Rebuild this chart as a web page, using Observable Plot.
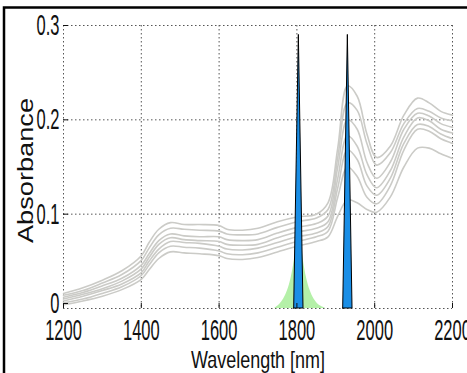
<!DOCTYPE html>
<html><head><meta charset="utf-8">
<script src="https://cdn.jsdelivr.net/npm/d3@7"></script>
<script src="https://cdn.jsdelivr.net/npm/@observablehq/plot@0.6"></script>
<style>html,body{margin:0;padding:0;background:#fff;} svg{display:block;}</style>
</head><body><div id="chart"></div>
<script>
const wavelengths = [1200,1250,1300,1350,1400,1420,1445,1475,1510,1550,1600,1620,1660,1700,1750,1800,1850,1880,1905,1930,1955,1980,2005,2040,2075,2110,2140,2170,2200];
const spectrum1 = [0.016,0.022,0.030,0.040,0.056,0.070,0.084,0.091,0.089,0.089,0.088,0.084,0.083,0.085,0.092,0.097,0.100,0.112,0.170,0.236,0.225,0.185,0.160,0.172,0.205,0.223,0.218,0.209,0.205];
const spectrum2 = [0.014,0.019,0.027,0.036,0.051,0.064,0.078,0.085,0.084,0.083,0.082,0.079,0.078,0.079,0.086,0.092,0.096,0.105,0.160,0.218,0.210,0.175,0.152,0.165,0.196,0.212,0.209,0.202,0.199];
const spectrum3 = [0.012,0.017,0.024,0.032,0.046,0.058,0.072,0.079,0.077,0.076,0.076,0.073,0.072,0.073,0.080,0.086,0.090,0.098,0.150,0.200,0.190,0.155,0.138,0.155,0.190,0.207,0.204,0.196,0.192];
const spectrum4 = [0.010,0.015,0.021,0.029,0.042,0.054,0.068,0.075,0.073,0.072,0.071,0.068,0.067,0.068,0.075,0.081,0.085,0.092,0.138,0.183,0.172,0.142,0.128,0.146,0.182,0.202,0.199,0.190,0.186];
const spectrum5 = [0.008,0.013,0.019,0.026,0.038,0.050,0.063,0.071,0.070,0.069,0.066,0.063,0.062,0.064,0.070,0.076,0.080,0.087,0.128,0.168,0.158,0.130,0.120,0.138,0.175,0.195,0.193,0.185,0.180];
const spectrum6 = [0.006,0.010,0.016,0.023,0.035,0.046,0.059,0.066,0.065,0.064,0.061,0.058,0.057,0.059,0.065,0.071,0.076,0.082,0.118,0.150,0.140,0.118,0.111,0.130,0.168,0.190,0.188,0.180,0.175];
const spectrum7 = [0.004,0.008,0.013,0.020,0.031,0.041,0.053,0.060,0.059,0.058,0.056,0.053,0.052,0.054,0.060,0.066,0.071,0.076,0.098,0.115,0.112,0.105,0.102,0.118,0.150,0.170,0.170,0.164,0.159];

const peakCenters = [1805, 1931];
const peakHalfWidths = [12, 12];
const peakHeights = [0.29, 0.29];

const bandWl  = [1742,1755,1766,1776,1785,1793,1800,1805,1810,1817,1825,1834,1844,1856,1875];
const bandAbs = [0,0.004,0.010,0.019,0.032,0.050,0.075,0.090,0.075,0.050,0.032,0.019,0.010,0.004,0];

const xTicks = [1200,1400,1600,1800,2000,2200];
const yTicks = [0,0.1,0.2,0.3];
const yTickLabels = ["0","0.1","0.2","0.3"];
const xTitle = "Wavelength [nm]";
const yTitle = "Absorbance";

const spectra = [spectrum1,spectrum2,spectrum3,spectrum4,spectrum5,spectrum6,spectrum7];
const specRows = spectra.flatMap((s,i)=>s.map((v,j)=>({series:i, wl:wavelengths[j], a:v})));
const peakRows = peakCenters.flatMap((c,i)=>[
  {peak:i, wl:c-peakHalfWidths[i], a:0},
  {peak:i, wl:c, a:peakHeights[i]},
  {peak:i, wl:c+peakHalfWidths[i], a:0}
]);
const bandRows = bandWl.map((w,i)=>({wl:w, a:bandAbs[i]}));

const chart = Plot.plot({
  width:467, height:373,
  marginLeft:63, marginRight:15, marginTop:25, marginBottom:65,
  style:{background:"#fff", fontFamily:"'Liberation Sans', Arial, sans-serif", overflow:"hidden", color:"#111"},
  x:{domain:[1200,2200]},
  y:{domain:[0,0.3]},
  marks:[
    Plot.gridX(xTicks,{stroke:"#555", strokeOpacity:1, strokeDasharray:"1.5,2.5"}),
    Plot.gridY(yTicks,{stroke:"#555", strokeOpacity:1, strokeDasharray:"1.5,2.5"}),
    Plot.areaY(bandRows,{x:"wl", y:"a", fill:"#b4f0a8", curve:"catmull-rom"}),
    Plot.line(specRows,{x:"wl", y:"a", z:"series", stroke:"#cbcbc7", strokeWidth:1.6, curve:"catmull-rom"}),
    Plot.areaY(peakRows,{x:"wl", y:"a", z:"peak", fill:"#1a8ee6", stroke:"#000", strokeWidth:1}),
    Plot.axisX(xTicks,{tickSize:-5, tickPadding:15, label:null, fontSize:30, tickFormat:d=>String(d)}),
    Plot.axisY(yTicks.slice(1),{tickSize:-5, tickPadding:9, label:null, fontSize:30, tickFormat:d=>yTickLabels[yTicks.indexOf(d)]}),
    Plot.axisY(yTicks.slice(0,1),{tickSize:-5, tickPadding:9, label:null, fontSize:30, dy:-5, tickFormat:d=>yTickLabels[yTicks.indexOf(d)]})
  ]
});
document.getElementById("chart").append(chart);
const svg = d3.select(chart);
svg.selectAll('g[aria-label="x-axis tick label"] text, g[aria-label="y-axis tick label"] text').each(function(){
  const L = this.getComputedTextLength();
  this.setAttribute("textLength", L*0.55);
  this.setAttribute("lengthAdjust","spacingAndGlyphs");
});
svg.append("text").attr("x",258).attr("y",368).attr("text-anchor","middle")
  .attr("font-size",24).attr("fill","#111")
  .attr("textLength",134).attr("lengthAdjust","spacingAndGlyphs").text(xTitle);
svg.append("text").attr("transform","translate(33,170.5) rotate(-90)").attr("text-anchor","middle")
  .attr("font-size",22).attr("fill","#111")
  .attr("textLength",145).attr("lengthAdjust","spacingAndGlyphs").text(yTitle);
svg.append("rect").attr("x",4).attr("y",7.5).attr("width",600).attr("height",600)
  .attr("fill","none").attr("stroke","#000").attr("stroke-width",2.5);
</script>
</body></html>
